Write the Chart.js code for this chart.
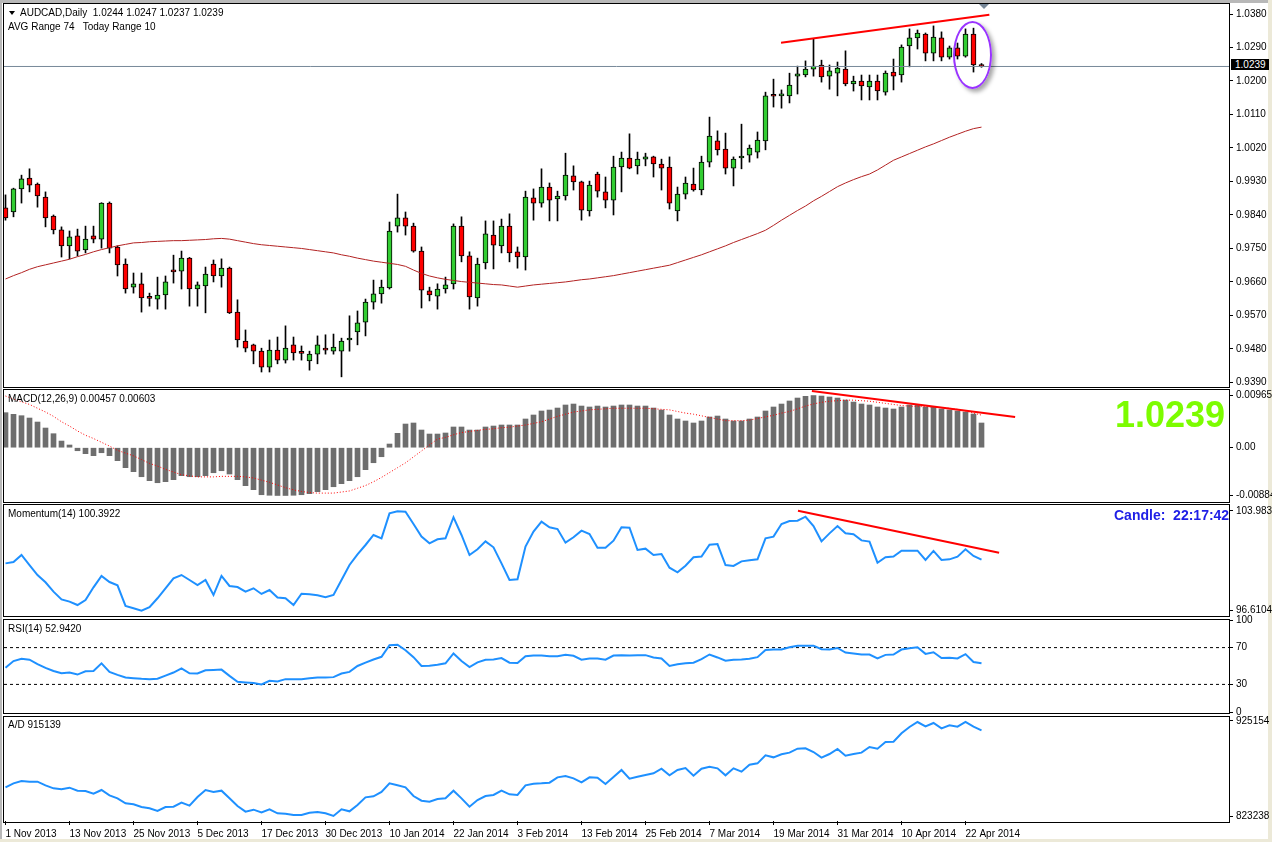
<!DOCTYPE html>
<html><head><meta charset="utf-8">
<script src="https://cdn.jsdelivr.net/npm/chart.js@4.4.1/dist/chart.umd.min.js"></script>
<style>
html,body{margin:0;padding:0;background:#fff;}
#wrap{position:relative;width:1272px;height:842px;overflow:hidden;background:#fff;font-family:"Liberation Sans",Arial,sans-serif;}
.panel{position:absolute;left:3px;width:1227px;border:1px solid #000;box-sizing:border-box;background:#fff;}
canvas{position:absolute;left:0;}
.lbl{position:absolute;font-size:10px;line-height:10px;color:#000;white-space:pre;}
</style></head>
<body><div id="wrap">
<div style="position:absolute;left:0;top:0;width:1272px;height:3px;background:#B8B8B8"></div>
<div style="position:absolute;left:0;top:0;width:2px;height:842px;background:#B8B8B8"></div>
<div style="position:absolute;left:1268px;top:0;width:4px;height:842px;background:#ECE9D8"></div>
<div style="position:absolute;left:0;top:839px;width:1272px;height:3px;background:#ECE9D8"></div>
<div class="panel" style="top:3px;height:385px"></div>
<div class="panel" style="top:389px;height:114px"></div>
<div class="panel" style="top:504px;height:113px"></div>
<div class="panel" style="top:619px;height:95px"></div>
<div class="panel" style="top:716px;height:107px"></div>
<canvas id="cMain" width="1272" height="402" style="top:-6px"></canvas>
<canvas id="cMacd" width="1272" height="131" style="top:380px"></canvas>
<canvas id="cMom" width="1272" height="130" style="top:495px"></canvas>
<canvas id="cRsi" width="1272" height="112" style="top:610px"></canvas>
<canvas id="cAd" width="1272" height="135" style="top:707px"></canvas>
<div style="position:absolute;left:9px;top:11px;width:0;height:0;border-left:3px solid transparent;border-right:3px solid transparent;border-top:4px solid #000"></div>
<div class="lbl" style="left:20px;top:8px">AUDCAD,Daily  1.0244 1.0247 1.0237 1.0239</div>
<div class="lbl" style="left:8px;top:22px">AVG Range 74   Today Range 10</div>
<div class="lbl" style="left:8px;top:394px">MACD(12,26,9) 0.00457 0.00603</div>
<div class="lbl" style="left:8px;top:509px">Momentum(14) 100.3922</div>
<div class="lbl" style="left:8px;top:624px">RSI(14) 52.9420</div>
<div class="lbl" style="left:8px;top:720px">A/D 915139</div>
<div style="position:absolute;left:1231px;top:59px;width:38px;height:11px;background:#000;color:#fff;font-size:10px;line-height:11px;padding-left:4px;box-sizing:border-box">1.0239</div>
<div style="position:absolute;left:1115px;top:397px;font-size:36px;line-height:36px;font-weight:bold;color:#7CFC00;white-space:pre">1.0239</div>
<div style="position:absolute;left:1114px;top:508px;font-size:14px;line-height:14px;font-weight:bold;color:#1E1EE6;white-space:pre">Candle:  22:17:42</div>
<div style="position:absolute;left:953px;top:21px;width:39px;height:68px;border:2px solid #9933FF;border-radius:50%;box-sizing:border-box;box-shadow:3px 3px 4px rgba(0,0,0,0.35)"></div>
<div style="position:absolute;left:979px;top:4px;width:0;height:0;border-left:5px solid transparent;border-right:5px solid transparent;border-top:5px solid #778899"></div>
</div>
<script>
const dateLabels = ["1 Nov 2013","13 Nov 2013","25 Nov 2013","5 Dec 2013","17 Dec 2013","30 Dec 2013","10 Jan 2014","22 Jan 2014","3 Feb 2014","13 Feb 2014","25 Feb 2014","7 Mar 2014","19 Mar 2014","31 Mar 2014","10 Apr 2014","22 Apr 2014"];
const openP = [0.9859,0.9848,0.9910,0.9939,0.9923,0.9888,0.9837,0.9800,0.9757,0.9784,
0.9746,0.9784,0.9775,0.9872,0.9754,0.9708,0.9646,0.9655,0.9618,0.9614,
0.9625,0.9692,0.9689,0.9724,0.9641,0.9649,0.9708,0.9676,0.9697,0.9579,
0.9501,0.9491,0.9474,0.9431,0.9477,0.9450,0.9491,0.9469,0.9448,0.9466,
0.9480,0.9474,0.9474,0.9504,0.9526,0.9552,0.9606,0.9628,0.9644,0.9810,
0.9832,0.9810,0.9743,0.9636,0.9622,0.9641,0.9655,0.9810,0.9730,0.9617,
0.9711,0.9786,0.9757,0.9810,0.9741,0.9727,0.9886,0.9872,0.9915,0.9883,
0.9891,0.9945,0.9929,0.9851,0.9950,0.9902,0.9880,0.9969,0.9993,0.9972,
0.9990,0.9996,0.9977,0.9969,0.9851,0.9896,0.9923,0.9907,0.9982,1.0039,
1.0017,0.9966,0.9993,1.0001,1.0009,1.0039,1.0160,1.0160,1.0160,1.0213,
1.0216,1.0232,1.0243,1.0213,1.0221,1.0232,1.0192,1.0200,1.0184,1.0200,
1.0170,1.0224,1.0216,1.0294,1.0316,1.0326,1.0275,1.0316,1.0264,1.0289,
1.0267,1.0326,1.0244];
const highP = [0.9894,0.9912,0.9947,0.9964,0.9926,0.9902,0.9840,0.9808,0.9797,0.9802,
0.9810,0.9810,0.9873,0.9875,0.9757,0.9722,0.9684,0.9684,0.9630,0.9673,
0.9676,0.9732,0.9743,0.9726,0.9660,0.9700,0.9719,0.9722,0.9700,0.9612,
0.9531,0.9493,0.9482,0.9504,0.9512,0.9542,0.9512,0.9488,0.9474,0.9515,
0.9518,0.9520,0.9509,0.9569,0.9582,0.9614,0.9665,0.9665,0.9821,0.9896,
0.9848,0.9818,0.9754,0.9646,0.9655,0.9673,0.9816,0.9835,0.9741,0.9724,
0.9824,0.9824,0.9829,0.9843,0.9754,0.9904,0.9910,0.9964,0.9926,0.9904,
1.0006,0.9972,0.9931,0.9931,0.9955,0.9942,0.9998,1.0009,1.0058,1.0009,
1.0006,0.9998,0.9990,0.9996,0.9915,0.9942,0.9966,0.9998,1.0103,1.0066,
1.0060,0.9996,1.0084,1.0028,1.0063,1.0170,1.0205,1.0176,1.0221,1.0240,
1.0254,1.0313,1.0256,1.0243,1.0251,1.0281,1.0213,1.0216,1.0216,1.0216,
1.0227,1.0259,1.0297,1.0340,1.0337,1.0329,1.0348,1.0332,1.0294,1.0302,
1.0340,1.0342,1.0247];
const lowP = [0.9826,0.9835,0.9872,0.9902,0.9861,0.9808,0.9789,0.9727,0.9722,0.9730,
0.9738,0.9765,0.9751,0.9738,0.9676,0.9630,0.9630,0.9579,0.9595,0.9587,
0.9587,0.9657,0.9641,0.9595,0.9595,0.9577,0.9660,0.9646,0.9575,0.9485,
0.9472,0.9440,0.9418,0.9418,0.9440,0.9442,0.9450,0.9450,0.9423,0.9440,
0.9466,0.9466,0.9405,0.9474,0.9491,0.9515,0.9587,0.9603,0.9641,0.9794,
0.9786,0.9740,0.9590,0.9609,0.9587,0.9630,0.9641,0.9714,0.9587,0.9595,
0.9695,0.9695,0.9738,0.9714,0.9697,0.9692,0.9826,0.9861,0.9824,0.9824,
0.9880,0.9907,0.9826,0.9837,0.9888,0.9859,0.9840,0.9902,0.9964,0.9950,
0.9972,0.9942,0.9907,0.9856,0.9824,0.9883,0.9904,0.9894,0.9969,1.0001,
0.9950,0.9918,0.9964,0.9982,0.9993,1.0015,1.0130,1.0127,1.0141,1.0165,
1.0211,1.0213,1.0197,1.0178,1.0160,1.0187,1.0173,1.0149,1.0149,1.0149,
1.0162,1.0176,1.0197,1.0238,1.0286,1.0254,1.0254,1.0254,1.0259,1.0259,
1.0264,1.0224,1.0237];
const closeP = [0.9832,0.9910,0.9937,0.9920,0.9891,0.9832,0.9800,0.9757,0.9781,0.9743,
0.9775,0.9775,0.9872,0.9751,0.9706,0.9641,0.9655,0.9617,0.9616,0.9625,
0.9660,0.9687,0.9724,0.9641,0.9652,0.9681,0.9676,0.9697,0.9577,0.9504,
0.9482,0.9474,0.9431,0.9477,0.9450,0.9482,0.9469,0.9468,0.9466,0.9491,
0.9477,0.9485,0.9501,0.9509,0.9550,0.9606,0.9628,0.9646,0.9797,0.9832,
0.9810,0.9743,0.9638,0.9625,0.9641,0.9652,0.9810,0.9730,0.9620,0.9708,
0.9789,0.9759,0.9810,0.9738,0.9727,0.9888,0.9872,0.9915,0.9880,0.9891,
0.9947,0.9929,0.9853,0.9920,0.9904,0.9880,0.9969,0.9993,0.9966,0.9990,
0.9996,0.9977,0.9966,0.9872,0.9896,0.9926,0.9907,0.9982,1.0052,1.0015,
0.9966,0.9990,0.9998,1.0020,1.0041,1.0160,1.0159,1.0161,1.0189,1.0219,
1.0232,1.0240,1.0211,1.0227,1.0235,1.0192,1.0200,1.0187,1.0200,1.0173,
1.0221,1.0213,1.0291,1.0316,1.0329,1.0275,1.0318,1.0264,1.0289,1.0267,
1.0326,1.0243,1.0239];
const maValues = [0.9668,0.9677,0.9685,0.9694,0.9701,0.9706,0.9711,0.9716,0.9721,0.9728,
0.9734,0.9741,0.9747,0.9752,0.9757,0.9761,0.9765,0.9766,0.9768,0.9769,
0.9770,0.9771,0.9771,0.9772,0.9773,0.9774,0.9776,0.9777,0.9775,0.9771,
0.9767,0.9763,0.9760,0.9758,0.9756,0.9754,0.9752,0.9750,0.9747,0.9744,
0.9741,0.9738,0.9733,0.9729,0.9724,0.9720,0.9716,0.9713,0.9710,0.9707,
0.9702,0.9692,0.9683,0.9676,0.9671,0.9667,0.9664,0.9661,0.9659,0.9657,
0.9655,0.9653,0.9652,0.9649,0.9646,0.9649,0.9652,0.9654,0.9656,0.9658,
0.9660,0.9663,0.9666,0.9668,0.9671,0.9674,0.9677,0.9681,0.9685,0.9689,
0.9693,0.9697,0.9701,0.9705,0.9712,0.9719,0.9726,0.9733,0.9741,0.9749,
0.9757,0.9766,0.9774,0.9782,0.9790,0.9799,0.9812,0.9826,0.9839,0.9852,
0.9864,0.9878,0.9890,0.9903,0.9916,0.9926,0.9935,0.9943,0.9950,0.9961,
0.9974,0.9987,0.9996,1.0005,1.0014,1.0023,1.0031,1.0040,1.0049,1.0057,
1.0065,1.0072,1.0076];
const macdHist = [0.00648,0.00617,0.00592,0.00549,0.00475,0.00364,0.00259,0.00123,0.0005,-0.00056,
-0.00111,-0.00148,-0.00093,-0.00148,-0.0024,-0.0037,-0.00444,-0.00537,-0.0061,-0.00648,
-0.00629,-0.00592,-0.00518,-0.00537,-0.00537,-0.00518,-0.00463,-0.00426,-0.00487,-0.00592,
-0.00703,-0.00777,-0.0087,-0.0088,-0.00884,-0.00884,-0.0088,-0.0087,-0.00851,-0.00814,
-0.00777,-0.00722,-0.00666,-0.0061,-0.00537,-0.00407,-0.00278,-0.00167,0.00068,0.00266,
0.00438,0.00457,0.00327,0.00253,0.00253,0.00272,0.00383,0.00383,0.00327,0.00327,
0.00383,0.00401,0.0042,0.0042,0.0042,0.00531,0.00605,0.00679,0.00697,0.00734,
0.0079,0.00808,0.00771,0.00753,0.00771,0.00753,0.00771,0.0079,0.0079,0.00771,
0.00771,0.00734,0.00697,0.00605,0.00531,0.00494,0.00457,0.00494,0.00568,0.00586,
0.00531,0.00494,0.00494,0.00531,0.00568,0.00679,0.00753,0.00808,0.00864,0.00919,
0.0095,0.00965,0.00956,0.00938,0.00919,0.00882,0.00845,0.00808,0.0079,0.00753,
0.00734,0.00716,0.00753,0.0079,0.0079,0.00753,0.00753,0.00716,0.00697,0.00679,
0.0066,0.00623,0.00457];
const macdSignal = [0.00956,0.0090,0.0085,0.0080,0.0073,0.0066,0.0058,0.0048,0.0040,0.0031,
0.0023,0.0017,0.0010,0.0003,-0.0005,-0.0010,-0.0015,-0.0022,-0.0029,-0.0034,
-0.0040,-0.0045,-0.0050,-0.0052,-0.0054,-0.0054,-0.0054,-0.0053,-0.0053,-0.0053,
-0.0054,-0.0056,-0.0060,-0.0064,-0.0069,-0.0074,-0.0078,-0.0081,-0.0083,-0.0084,
-0.0084,-0.0084,-0.0082,-0.0080,-0.0075,-0.0070,-0.0063,-0.0055,-0.0046,-0.0037,
-0.0028,-0.0017,-0.0006,0.0005,0.0016,0.0019,0.0024,0.0028,0.0030,0.0032,
0.0034,0.0035,0.0037,0.0038,0.0040,0.0042,0.0045,0.0048,0.0053,0.0058,
0.0062,0.0066,0.0068,0.0070,0.0071,0.0072,0.0073,0.0073,0.0073,0.0073,
0.0073,0.0072,0.0071,0.0070,0.0067,0.0064,0.0062,0.0059,0.0056,0.0053,
0.0050,0.0050,0.0050,0.0051,0.0054,0.0057,0.0060,0.0064,0.0067,0.0072,
0.0077,0.0081,0.0084,0.0086,0.0087,0.0088,0.0088,0.0087,0.0086,0.0084,
0.0082,0.0080,0.0078,0.0077,0.0076,0.0076,0.0075,0.0074,0.0073,0.0071,
0.0068,0.0064,0.00603];
const momentum = [100.11,100.21,100.73,99.99,99.25,98.71,98.02,97.45,97.28,97.03,
97.40,98.34,99.18,98.73,98.49,96.96,96.79,96.61,96.88,97.53,
98.27,99.00,99.25,98.88,98.51,98.88,97.77,99.18,98.44,98.36,
98.02,98.27,97.85,98.14,97.58,97.53,97.03,97.87,97.82,97.75,
97.60,97.77,98.88,99.99,100.78,101.47,102.21,101.96,103.81,103.96,
103.93,103.02,102.09,101.59,101.89,101.96,103.52,102.21,100.73,101.15,
101.74,101.30,100.11,98.88,98.93,101.35,102.46,103.20,102.78,102.65,
101.64,102.04,102.53,102.28,101.27,101.27,101.79,102.78,102.75,101.10,
101.20,100.73,100.80,99.79,99.45,99.94,100.56,100.61,101.49,101.54,
99.99,99.92,100.26,100.34,100.41,101.96,102.09,103.02,103.24,103.27,
103.56,102.87,101.74,102.33,102.87,102.33,102.26,101.81,101.72,100.16,
100.56,100.61,101.05,101.05,101.05,100.36,101.03,100.36,100.41,100.61,
101.15,100.66,100.3922];
const rsi = [48.2,55.4,57.9,56.8,52.1,47.9,44.6,42.1,42.9,40.7,
44.3,44.6,52.9,43.6,40.4,37.5,36.8,36.1,35.7,36.1,
39.6,42.9,47.5,42.1,41.8,45.4,45.7,46.1,39.3,32.9,
32.1,31.4,30.0,33.9,33.2,35.7,35.7,35.7,36.8,37.5,
37.5,37.9,41.8,43.6,50.0,53.6,57.1,60.0,72.5,73.2,
67.1,59.6,50.0,50.4,51.4,52.9,63.6,55.4,48.9,53.9,
56.8,57.1,58.6,53.6,53.2,60.7,61.4,61.4,60.7,60.7,
62.1,61.1,56.8,58.2,58.2,56.8,61.4,61.8,61.4,61.8,
61.8,59.3,58.2,50.0,51.8,52.9,53.6,57.5,62.5,59.3,
55.7,56.8,57.1,57.9,59.6,67.5,67.9,67.9,70.4,72.1,
72.1,72.1,68.2,67.9,69.6,64.6,63.6,62.5,62.5,58.2,
62.1,62.5,67.9,69.3,70.4,63.2,65.0,58.6,58.9,58.2,
62.9,54.3,52.942];
const adLine = [854509,858769,861254,860544,860544,856639,853444,852379,854154,850959,
850604,847764,851669,845989,842794,837469,836404,833564,832144,829304,
833564,833919,838179,834984,844214,851669,849539,850959,842794,834629,
828594,830724,827884,831079,826819,826464,825044,825044,827529,828239,
826819,823979,831079,828949,835694,843859,844924,849539,858769,856639,
854509,845279,840309,839244,842084,842794,850959,842794,833919,841019,
845279,846344,850959,847054,846344,856639,858414,858769,859479,865159,
866579,864094,859834,865159,864804,858059,865514,872969,863739,865869,
867644,869419,874389,867289,872969,875099,866934,874389,876519,874744,
867289,874744,871194,878649,880069,888589,886459,889654,891429,895689,
896044,892139,886104,890009,895334,888234,890009,891429,897464,895689,
902789,903144,912019,918764,924089,919474,923024,917344,920539,919119,
924089,919119,915139];
const priceTicks = [1.0380,1.0290,1.0200,1.0110,1.0020,0.9930,0.9840,0.9750,0.9660,0.9570,0.9480,0.9390];
const macdTicks = [0.00965,0,-0.00884];
const momTicks = [103.9834,96.6104];
const rsiTicks = [100,70,30,0];
const adTicks = [925154,823238];
const bidPrice = 1.0239;
const rsiLevels = [70,30];
const trendPrice = [[96.94,1.0303],[122.98,1.0378]];
const trendMacd = [[100.8,0.01049],[126.2,0.00568]];
const trendMom = [[99.06,104.005],[124.2,100.90]];

const X_MIN = -0.1875, X_MAX = 152.9375;

Chart.defaults.font.family = '"Liberation Sans", Arial, sans-serif';
Chart.defaults.font.size = 10;
Chart.defaults.color = '#000';
Chart.defaults.animation = false;
Chart.defaults.events = [];
Chart.defaults.plugins.legend.display = false;
Chart.defaults.plugins.tooltip.enabled = false;

const pts = a => a.map((v, i) => ({x: i, y: v}));
const seg = p => p.map(q => ({x: q[0], y: q[1]}));
const hline = v => [{x: X_MIN, y: v}, {x: X_MAX, y: v}];

function xAxis(show) {
  const o = {type: 'linear', min: X_MIN, max: X_MAX, offset: false, display: show, position: 'bottom',
    grid: {display: show, offset: false, drawOnChartArea: false, drawTicks: true, tickLength: 4, color: '#000'},
    border: {display: false}};
  if (show) {
    o.afterFit = s => { s.height = 21; };
    o.afterBuildTicks = s => { s.ticks = dateLabels.map((d, k) => ({value: k * 8})); };
    o.ticks = {autoSkip: false, maxRotation: 0, minRotation: 0, align: 'start', padding: 3, color: '#000',
      callback: v => dateLabels[Math.round(v / 8)]};
  }
  return o;
}
function yAxis(min, max, ticks, fmt) {
  return {type: 'linear', position: 'right', min, max, beginAtZero: false,
    afterFit: s => { s.width = 43; },
    afterBuildTicks: s => { s.ticks = ticks.map(v => ({value: v})); },
    ticks: {autoSkip: false, padding: 3, color: '#000', callback: fmt},
    grid: {display: true, drawOnChartArea: false, drawTicks: true, tickLength: 4, color: '#000'},
    border: {display: false}};
}
function lineDs(data, color, width, order, dash) {
  return {type: 'line', data, borderColor: color, borderWidth: width, pointRadius: 0, tension: 0,
    borderDash: dash || [], order, fill: false};
}
function make(id, datasets, y, showX, padB) {
  return new Chart(document.getElementById(id), {
    type: 'bar',
    data: {datasets},
    options: {responsive: false, devicePixelRatio: 1, maintainAspectRatio: false,
      layout: {padding: {left: 4, right: 0, top: 10, bottom: padB}},
      scales: {x: xAxis(showX), y}}
  });
}

// Main price panel
const bodies = openP.map((o, i) => ({x: i, y: [o, closeP[i]]}));
const bodyColors = openP.map((o, i) => closeP[i] >= o ? '#32CD32' : '#FF0000');
const wicks = lowP.map((l, i) => ({x: i, y: [l, highP[i]]}));
make('cMain', [
  lineDs(seg(trendPrice), '#FF0000', 2, 0),
  lineDs(hline(bidPrice), '#778899', 1, 1),
  lineDs(pts(maValues), '#B22222', 1, 2),
  {type: 'bar', data: bodies, backgroundColor: bodyColors, borderColor: '#000', borderWidth: 1,
    borderSkipped: false, barThickness: 5, grouped: false, minBarLength: 2, order: 3},
  {type: 'bar', data: wicks, backgroundColor: '#000', borderWidth: 0, barThickness: 1, grouped: false, order: 4}
], yAxis(0.93804, 1.04069, priceTicks, v => v.toFixed(4)), false, 10);

// MACD
make('cMacd', [
  lineDs(seg(trendMacd), '#FF0000', 2, 0),
  lineDs(pts(macdSignal), '#FF0000', 1, 1, [1, 2]),
  {type: 'bar', data: pts(macdHist), backgroundColor: '#6E6E6E', borderWidth: 0, barThickness: 5, grouped: false, order: 2}
], yAxis(-0.009861, 0.010675, macdTicks, v => v === 0 ? '0.00' : v.toFixed(5)), false, 10);

// Momentum
make('cMom', [
  lineDs(seg(trendMom), '#FF0000', 2, 0),
  lineDs(pts(momentum), '#1E90FF', 2, 1)
], yAxis(96.293, 104.427, momTicks, v => v.toFixed(4)), false, 10);

// RSI
make('cRsi', [
  lineDs(hline(rsiLevels[0]), '#000', 1, 1, [3, 3]),
  lineDs(hline(rsiLevels[1]), '#000', 1, 1, [3, 3]),
  lineDs(pts(rsi), '#1E90FF', 2, 0)
], yAxis(0, 100, rsiTicks, v => String(v)), false, 10);

// A/D
make('cAd', [
  lineDs(pts(adLine), '#1E90FF', 2, 0)
], yAxis(818654, 929414, adTicks, v => String(v)), true, 0);
</script>
</body></html>
